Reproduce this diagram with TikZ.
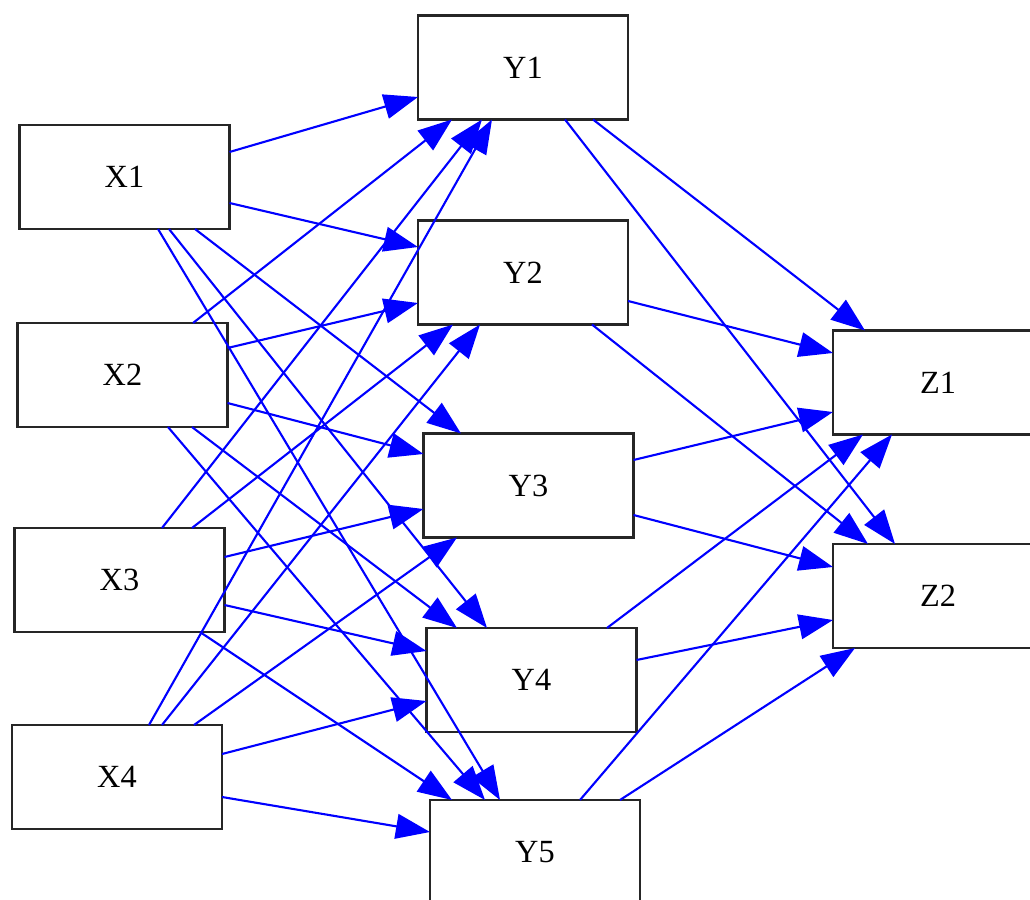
\documentclass[tikz,border=0pt]{standalone}
\usepackage{fontspec}
\setmainfont{Liberation Serif}
\usetikzlibrary{arrows.meta, calc}

\begin{document}
\begin{tikzpicture}[x=0.025cm, y=-0.025cm,
every node/.style={
    rectangle,
    draw=black!85,
    line width=2pt,
    minimum width=5.25cm,
    minimum height=2.6cm,
    inner sep=0pt,
    outer sep=0pt,
    font=\fontsize{23}{28}\selectfont
},
link/.style={->, draw=blue, line width=1.5pt},
>={Triangle[length=0.85cm, width=0.62cm]}]

  \clip (0,0) rectangle (1030,899);

  % input layer
  \node (x1) at (124.5,177) {X1};
  \node (x2) at (122.5,375) {X2};
  \node (x3) at (119.5,580) {X3};
  \node (x4) at (117,777) {X4};

  % hidden layer
  \node (y1) at (523,67.5) {Y1};
  \node (y2) at (523,272.5) {Y2};
  \node (y3) at (528.5,485.5) {Y3};
  \node (y4) at (531.5,680) {Y4};
  \node (y5) at (535,852) {Y5};

  % output layer
  \node (z1) at (938,382.5) {Z1};
  \node (z2) at (938,596) {Z2};

  % X -> Y
  \draw[link] ($(x1.east)+(0,-25)$) -- ($(y1.west)+(0,29.5)$);
  \draw[link] ($(x1.east)+(0,26)$) -- ($(y2.west)+(0,-25.5)$);
  \draw[link] ($(x1.south)+(70.5,0)$) -- ($(y3.north)+(-67.5,0)$);
  \draw[link] ($(x1.south)+(44.5,0)$) -- ($(y4.north)+(-44.5,0)$);
  \draw[link] ($(x1.south)+(33.5,0)$) -- ($(y5.north)+(-35,0)$);

  \draw[link] ($(x2.north)+(70.5,0)$) -- ($(y1.south)+(-71,0)$);
  \draw[link] ($(x2.east)+(0,-27)$) -- ($(y2.west)+(0,30.5)$);
  \draw[link] ($(x2.east)+(0,28)$) -- ($(y3.west)+(0,-31.5)$);
  \draw[link] ($(x2.south)+(69.5,0)$) -- ($(y4.north)+(-74.5,0)$);
  \draw[link] ($(x2.south)+(45.5,0)$) -- ($(y5.north)+(-50,0)$);

  \draw[link] ($(x3.north)+(42.5,0)$) -- ($(y1.south)+(-41,0)$);
  \draw[link] ($(x3.north)+(72.5,0)$) -- ($(y2.south)+(-70,0)$);
  \draw[link] ($(x3.east)+(0,-23)$) -- ($(y3.west)+(0,23.5)$);
  \draw[link] ($(x3.east)+(0,25)$) -- ($(y4.west)+(0,-29)$);
  \draw[link] ($(x3.south)+(80.5,0)$) -- ($(y5.north)+(-83,0)$);

  \draw[link] ($(x4.north)+(32,0)$) -- ($(y1.south)+(-31,0)$);
  \draw[link] ($(x4.north)+(45,0)$) -- ($(y2.south)+(-43,0)$);
  \draw[link] ($(x4.north)+(77,0)$) -- ($(y3.south)+(-71.5,0)$);
  \draw[link] ($(x4.east)+(0,-23)$) -- ($(y4.west)+(0,21)$);
  \draw[link] ($(x4.east)+(0,20)$) -- ($(y5.west)+(0,-20)$);

  % Y -> Z
  \draw[link] ($(y1.south)+(70,0)$) -- ($(z1.north)+(-73,0)$);
  \draw[link] ($(y1.south)+(42,0)$) -- ($(z2.north)+(-43,0)$);
  \draw[link] ($(y2.east)+(0,28.5)$) -- ($(z1.west)+(0,-29.5)$);
  \draw[link] ($(y2.south)+(69,0)$) -- ($(z2.north)+(-70,0)$);
  \draw[link] ($(y3.east)+(0,-25.5)$) -- ($(z1.west)+(0,29.5)$);
  \draw[link] ($(y3.east)+(0,29.5)$) -- ($(z2.west)+(0,-29)$);
  \draw[link] ($(y4.north)+(75.5,0)$) -- ($(z1.south)+(-75,0)$);
  \draw[link] ($(y4.east)+(0,-20)$) -- ($(z2.west)+(0,24)$);
  \draw[link] ($(y5.north)+(45,0)$) -- ($(z1.south)+(-46,0)$);
  \draw[link] ($(y5.north)+(85,0)$) -- ($(z2.south)+(-83,0)$);

\end{tikzpicture}
\end{document}
